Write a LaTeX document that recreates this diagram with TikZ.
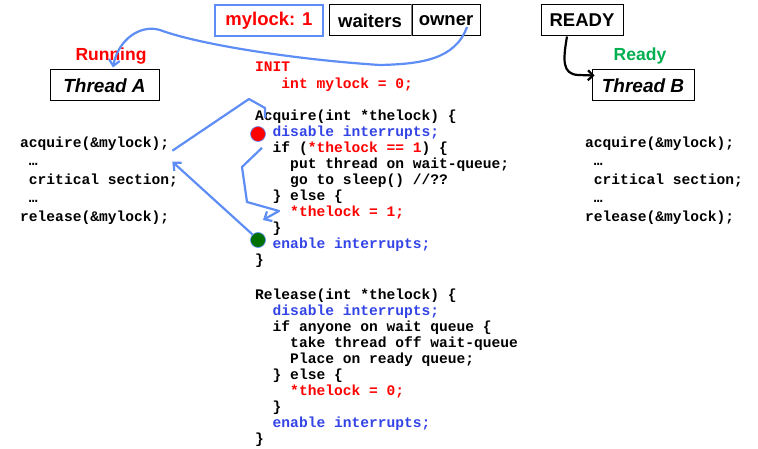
\documentclass[tikz,border=0pt]{standalone}
\usepackage{fontspec}
\setmainfont{Liberation Sans}
\setmonofont{Liberation Mono}
\usepackage{tikz}
\usetikzlibrary{arrows.meta, positioning}

\definecolor{lockred}{RGB}{255,0,0}
\definecolor{intblue}{RGB}{51,68,230}
\definecolor{flowblue}{RGB}{94,142,245}
\definecolor{readygreen}{RGB}{0,176,80}
\definecolor{dotgreen}{RGB}{0,112,0}

% indent by n monospace cells
\newcommand{\ind}[1]{\hspace*{#1\fontcharwd\font`\x}}

\begin{document}
\begin{tikzpicture}[
    x=1pt, y=-1pt,
    statebox/.style={rectangle, draw=black, line width=1pt, fill=white,
                     minimum height=31pt, inner sep=0pt,
                     font=\fontsize{18.5}{18.5}\selectfont\bfseries},
    thread/.style={statebox, font=\fontsize{19}{19}\selectfont\bfseries\itshape},
    statetag/.style={font=\fontsize{17.5}{17.5}\selectfont\bfseries},
    code/.style={anchor=base west, inner sep=0pt, align=left,
                 font=\fontsize{14.6}{16}\selectfont\ttfamily\bfseries},
    stopdot/.style={circle, fill=#1, draw=flowblue, line width=0.6pt,
                    minimum size=15pt, inner sep=0pt},
    flow/.style={flowblue, line width=2.2pt, line join=round,
                 -{Straight Barb[length=6pt, width=11pt]}},
    flowline/.style={flowblue, line width=2.2pt, line join=round},
    readyflow/.style={black, line width=2.2pt, -{Straight Barb[length=5pt, width=10pt]}}
]
\useasboundingbox (0,0) rectangle (758,449);

% --- Lock variable ---
\node[statebox, draw=flowblue, line width=1.3pt, text=lockred, minimum width=108pt]
    (lockval) at (269,20.5) {mylock: 1};
\node[statebox, minimum width=82pt] (waiters) at (370,20.5) {waiters};
\node[statebox, minimum width=68pt, right=0pt of waiters] (owner) {owner};
\draw[gray, line width=1.8pt] (waiters.north east) -- (waiters.south east);

% --- Ready queue ---
\node[statebox, minimum width=82pt] (ready) at (582,20.5) {READY};

% --- Threads ---
\node[statetag, text=lockred] (running) at (111,56) {Running};
\node[thread, minimum width=109pt] (threadA) at (104.5,85.5) {Thread A};
\node[statetag, text=readygreen] (readytag) at (640,56) {Ready};
\node[thread, minimum width=102pt] (threadB) at (643,85.5) {Thread B};

% --- Thread A code ---
\node[code] (acqA)  at (20,147.5) {acquire(\&mylock);};
\node[code] (gapA1) at (20,166)   {\ind{1}…};
\node[code] (critA) at (20,184.5) {\ind{1}critical section;};
\node[code] (gapA2) at (20,203)   {\ind{1}…};
\node[code] (relA)  at (20,221.5) {release(\&mylock);};

% --- Thread B code ---
\node[code] (acqB)  at (585,147.5) {acquire(\&mylock);};
\node[code] (gapB1) at (585,166)   {\ind{1}…};
\node[code] (critB) at (585,184.5) {\ind{1}critical section;};
\node[code] (gapB2) at (585,203)   {\ind{1}…};
\node[code] (relB)  at (585,221.5) {release(\&mylock);};

% --- Lock implementation (placed by the baseline of the last line) ---
\node[code, text=lockred, font=\fontsize{14.6}{17}\selectfont\ttfamily\bfseries]
    (init) at (255,88.5) {INIT\\\ind{3}int mylock = 0;};

\node[code] (acquire) at (255,265) {%
Acquire(int *thelock) \{\\
\ind{2}\textcolor{intblue}{disable interrupts;}\\
\ind{2}if (\textcolor{lockred}{*thelock == 1}) \{\\
\ind{4}put thread on wait-queue;\\
\ind{4}go to sleep() //??\\
\ind{2}\} else \{\\
\ind{4}\textcolor{lockred}{*thelock = 1;}\\
\ind{2}\}\\
\ind{2}\textcolor{intblue}{enable interrupts;}\\
\}};

\node[code] (release) at (255,443) {%
Release(int *thelock) \{\\
\ind{2}\textcolor{intblue}{disable interrupts;}\\
\ind{2}if anyone on wait queue \{\\
\ind{4}take thread off wait-queue\\
\ind{4}Place on ready queue;\\
\ind{2}\} else \{\\
\ind{4}\textcolor{lockred}{*thelock = 0;}\\
\ind{2}\}\\
\ind{2}\textcolor{intblue}{enable interrupts;}\\
\}};

% --- Interrupt markers ---
\node[stopdot=red] (reddot) at (258,134) {};
\node[stopdot=dotgreen] (greendot) at (258,240) {};

\coordinate (intoacq) at (265,118);
\coordinate (elsejump) at (263,220);

% --- Arrows: control flow ---
\draw[flowline] ([xshift=3pt]acqA.south east) -- (249,99) -- (265,108) -- (intoacq);
\draw[flow] ([shift={(4,6)}]reddot.south) -- (242,167) -- (247,202) -- (279,211) -- (elsejump);
\draw[flow] (greendot.north west) -- ([shift={(3,11)}]acqA.south east);

% --- Arrows: owner / ready ---
\draw[flow] ([shift={(21,6.5)}]owner.center) .. controls (455,60) and (420,64) .. (380,65)
    .. controls (300,60) and (200,45) .. (160,30)
    .. controls (140,24) and (118,40) .. ([shift={(8.5,-2)}]threadA.north);
\draw[readyflow] ([xshift=-15pt]ready.south) .. controls (563,60) and (562,74) .. (578,75)
    -- ([shift={(3,-10)}]threadB.west);

\end{tikzpicture}
\end{document}
